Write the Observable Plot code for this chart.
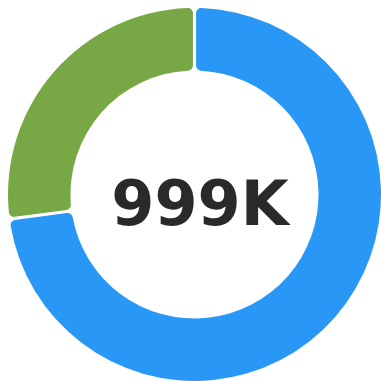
<!DOCTYPE html>
<html>
<head>
<meta charset="utf-8">
<script src="https://cdn.jsdelivr.net/npm/d3@7"></script>
<script src="https://cdn.jsdelivr.net/npm/@observablehq/plot@0.6"></script>
<style>
  html, body { margin: 0; padding: 0; background: #fff; }
</style>
</head>
<body>
<div id="chart"></div>
<script>
// Data
const categories = ["A", "B"];
const values = [73, 27];
const colors = ["#2997F6", "#77A845"];
const centerLabel = ["999K"];

const rows = categories.map((c, i) => ({category: c, value: values[i]}));
const innerRatio = 0.665;

const color = Plot.scale({color: {domain: categories, range: colors}});

function donut(index, scales, values_, dimensions) {
  const cx = scales.x(0), cy = scales.y(0);
  const R = scales.x(1) - scales.x(0);
  const pie = d3.pie().sort(null).value(d => d.value).padAngle(0.014);
  const arc = d3.arc().innerRadius(R * innerRatio).outerRadius(R).cornerRadius(5);
  const g = d3.create("svg:g").attr("transform", `translate(${cx},${cy})`);
  g.selectAll("path")
    .data(pie(rows))
    .join("path")
    .attr("d", arc)
    .attr("fill", d => color.apply(d.data.category));
  return g.node();
}

const chart = Plot.plot({
  width: 381,
  height: 381,
  marginLeft: 8,
  marginTop: 8,
  marginRight: 0,
  marginBottom: 0,
  x: {domain: [-1, 1], axis: null},
  y: {domain: [1, -1], axis: null},
  marks: [
    donut,
    Plot.text(centerLabel, {
      x: () => 0,
      y: () => 0,
      text: d => d,
      fontSize: 62,
      fontWeight: "bold",
      fontFamily: "DejaVu Sans",
      fill: "#2A2A2C",
      dx: 5,
      dy: 10
    })
  ]
});
document.getElementById("chart").appendChild(chart);
</script>
</body>
</html>
